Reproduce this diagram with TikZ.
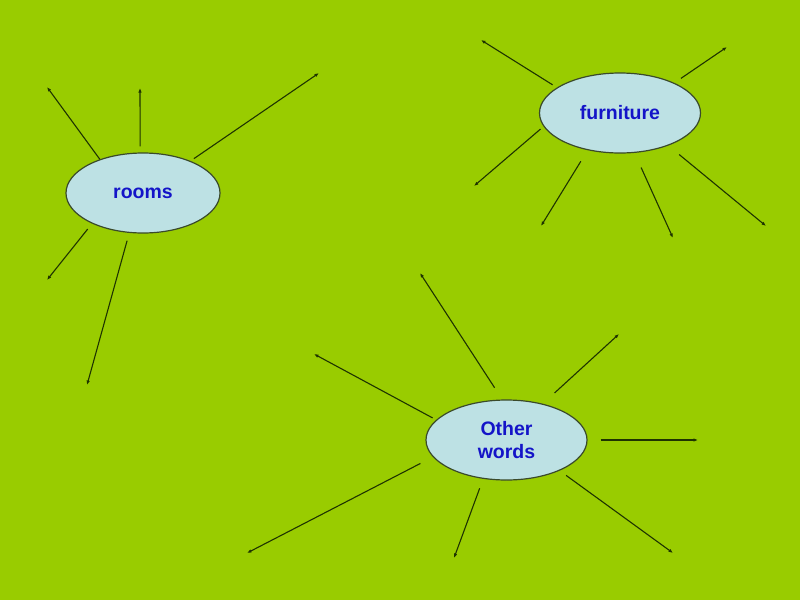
\documentclass[tikz,border=0pt]{standalone}
\usepackage{fontspec}
\setmainfont{Liberation Sans}
\usetikzlibrary{shapes.geometric, arrows.meta}
\definecolor{leafgreen}{HTML}{99CC00}
\definecolor{bubblefill}{HTML}{BDE1E4}
\definecolor{bubbleline}{HTML}{3A4A2A}
\definecolor{wordblue}{HTML}{1414C8}
\definecolor{spokeline}{HTML}{1E3300}

\begin{document}
\begin{tikzpicture}[x=1pt, y=-1pt,
    % Define a style for the word bubbles
    bubble/.style={ellipse, draw=bubbleline, line width=1.2pt, fill=bubblefill, inner sep=0pt,
        minimum height=80pt, text=wordblue, font=\fontsize{19.5}{23.5}\selectfont\bfseries, align=center},
    % Define a style for the lines going out of the bubbles
    spoke/.style={draw=spokeline, line width=1.1pt, -{Latex[length=4.5pt,width=3.5pt]}}
]

    % Background, also fixes the size of the page
    \fill[leafgreen] (0,0) rectangle (800,600);
    \useasboundingbox (0,0) rectangle (800,600);

    % Place the three bubbles
    \node[bubble, minimum width=154pt] (rooms) at (143,193) {rooms};
    \node[bubble, minimum width=161pt] (furniture) at (620,113) {furniture};
    \node[bubble, minimum width=161pt] (other) at (506.5,440) {Other\\words};

    % Spokes: anchor angle / gap / end point
    \foreach \a/\g/\x/\y [count=\i] in {142/0/47/87, 94/6/140/88, 34/4/319/73, 211/7/47/280, 251/8/87/385} {
        \coordinate (rooms-\i) at (\x,\y);
        \draw[spoke, shorten <=\g pt] (rooms.\a) -- (rooms-\i);
    }
    \foreach \a/\g/\x/\y [count=\i] in {158/5/481/40, 29.5/8/727/47, 190/4/474/186,
                                        229.6/13/541/226, 290.3/16/673/238, 326.3/14/766/226} {
        \coordinate (furniture-\i) at (\x,\y);
        \draw[spoke, shorten <=\g pt] (furniture.\a) -- (furniture-\i);
    }
    \foreach \a/\g/\x/\y [count=\i] in {96.9/14/420/273, 45.3/16/619/334, 164.1/4/314/354, 0/13/698/440,
                                        193/14/247/553, 239.7/10/454/558, 330.7/8/673/553} {
        \coordinate (other-\i) at (\x,\y);
        \draw[spoke, shorten <=\g pt] (other.\a) -- (other-\i);
    }

\end{tikzpicture}
\end{document}
